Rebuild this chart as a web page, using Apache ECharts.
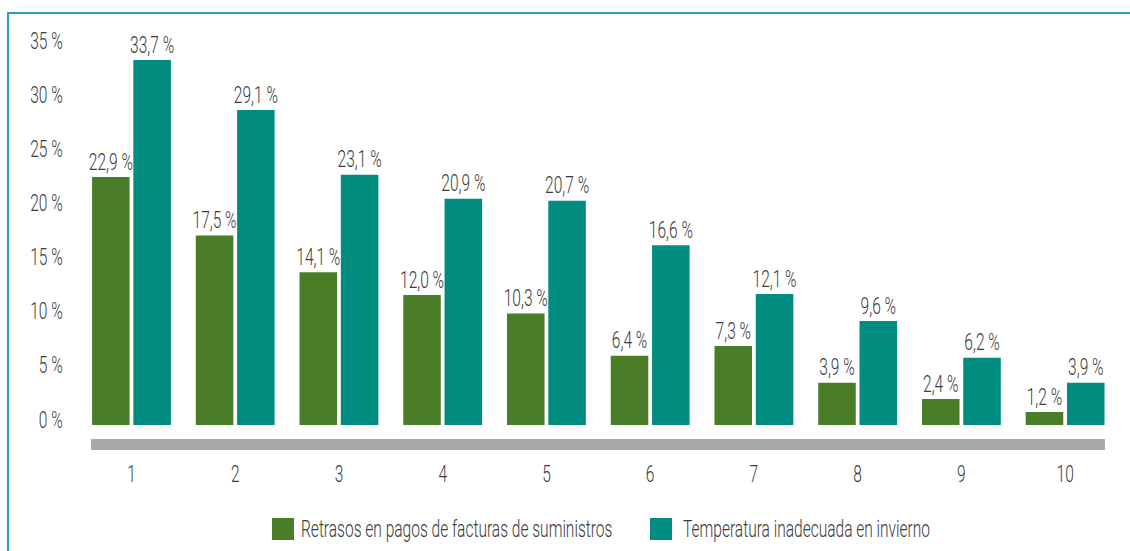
<!DOCTYPE html>
<html>
<head>
<meta charset="utf-8">
<script src="https://cdn.jsdelivr.net/npm/echarts@6/dist/echarts.min.js"></script>
<style>
  html, body { margin: 0; padding: 0; background: #ffffff; }
  #wrap { position: relative; width: 1130px; height: 551px; overflow: hidden; }
  #frame { position: absolute; left: 7px; top: 12px; width: 1130px; height: 600px;
           border-left: 2px solid #2a9cc0; border-top: 2px solid #2a9cc0; }
  #chart { position: absolute; left: 0; top: 0; width: 1130px; height: 551px; }
</style>
</head>
<body>
<div id="wrap">
  <div id="frame"></div>
  <div id="chart"></div>
</div>
<script>
const categories = ['1', '2', '3', '4', '5', '6', '7', '8', '9', '10'];
const seriesNames = ['Retrasos en pagos de facturas de suministros', 'Temperatura inadecuada en invierno'];
const retrasos = [22.9, 17.5, 14.1, 12.0, 10.3, 6.4, 7.3, 3.9, 2.4, 1.2];
const temperatura = [33.7, 29.1, 23.1, 20.9, 20.7, 16.6, 12.1, 9.6, 6.2, 3.9];
const yTicks = [0, 5, 10, 15, 20, 25, 30, 35];

const COLORS = ['#4a7d28', '#008c7e'];
const FONT = 'Roboto, "DejaVu Sans Condensed", sans-serif';
const FS = 23;
const FW = 300;
const SX = 0.675;
const TXT = '#3a3a3c';
const BAR_GAP = 0.10, CAT_GAP = 0.24;
const fmt = v => v.toFixed(1).replace('.', ',') + ' %';

function txt(x, y, text, align, vAlign) {
  return {
    type: 'text', x: x, y: y, scaleX: SX, silent: true,
    style: { text: text, x: 0, y: 0, fill: TXT, fontFamily: FONT, fontSize: FS, fontWeight: FW,
             align: align, verticalAlign: vAlign }
  };
}

function barLabelSeries(values, sIdx) {
  return {
    type: 'custom', xAxisIndex: 0, yAxisIndex: 0, z: 5,
    data: values.map((v, i) => [i, v]),
    renderItem: function (params, api) {
      const catW = api.size([1, 0])[0];
      const barW = catW * (1 - CAT_GAP) / (2 + BAR_GAP);
      const off = (sIdx === 0 ? -1 : 1) * barW * (1 + BAR_GAP) / 2;
      const p = api.coord([api.value(0), api.value(1)]);
      return txt(p[0] + off, p[1] - 15, fmt(api.value(1)), 'center', 'middle');
    }
  };
}

const chart = echarts.init(document.getElementById('chart'), null, { renderer: 'svg' });
chart.setOption({
  animation: false,
  textStyle: { fontFamily: FONT },
  grid: [
    { left: 79.6, right: 13, top: 46, bottom: 126 },
    { left: 91, right: 25, top: 46, bottom: 126 }
  ],
  xAxis: [
    {
      type: 'category', gridIndex: 0, data: categories,
      axisLine: { show: false }, axisTick: { show: false }, axisLabel: { show: false }
    },
    {
      type: 'category', gridIndex: 1, data: categories,
      offset: 19.5,
      axisLine: { show: true, onZero: false, lineStyle: { color: '#a7a8ab', width: 11, cap: 'butt' } },
      axisTick: { show: false }, axisLabel: { show: false }
    }
  ],
  yAxis: [
    {
      type: 'value', gridIndex: 0, min: 0, max: 35, interval: 5,
      splitLine: { show: false }, axisLine: { show: false }, axisTick: { show: false },
      axisLabel: { show: false }
    },
    { type: 'value', gridIndex: 1, min: 0, max: 35, show: false }
  ],
  graphic: [
    { type: 'rect', left: 272, top: 518, shape: { width: 22, height: 22 }, style: { fill: COLORS[0] } },
    { type: 'text', x: 301, y: 529, scaleX: SX,
      style: { text: seriesNames[0], fill: TXT, fontFamily: FONT, fontSize: FS, fontWeight: FW, align: 'left', verticalAlign: 'middle' } },
    { type: 'rect', left: 650, top: 518, shape: { width: 22, height: 22 }, style: { fill: COLORS[1] } },
    { type: 'text', x: 683, y: 529, scaleX: SX,
      style: { text: seriesNames[1], fill: TXT, fontFamily: FONT, fontSize: FS, fontWeight: FW, align: 'left', verticalAlign: 'middle' } }
  ],
  series: [
    {
      name: seriesNames[0], type: 'bar', xAxisIndex: 0, yAxisIndex: 0,
      data: retrasos, barGap: (BAR_GAP * 100) + '%', barCategoryGap: (CAT_GAP * 100) + '%',
      itemStyle: { color: COLORS[0] }
    },
    {
      name: seriesNames[1], type: 'bar', xAxisIndex: 0, yAxisIndex: 0,
      data: temperatura, barGap: (BAR_GAP * 100) + '%', barCategoryGap: (CAT_GAP * 100) + '%',
      itemStyle: { color: COLORS[1] }
    },
    barLabelSeries(retrasos, 0),
    barLabelSeries(temperatura, 1),
    {
      // x-axis category labels
      type: 'custom', xAxisIndex: 0, yAxisIndex: 0,
      data: categories.map((c, i) => [i, 0]),
      renderItem: function (params, api) {
        const p = api.coord([api.value(0), 0]);
        return txt(p[0], p[1] + 49, categories[api.value(0)], 'center', 'middle');
      }
    },
    {
      // y-axis tick labels
      type: 'custom', xAxisIndex: 0, yAxisIndex: 0,
      data: yTicks.map(v => [0, v]),
      renderItem: function (params, api) {
        const p = api.coord([0, api.value(1)]);
        return txt(params.coordSys.x - 17, p[1] - 5, api.value(1) + ' %', 'right', 'middle');
      }
    }
  ]
});
</script>
</body>
</html>
